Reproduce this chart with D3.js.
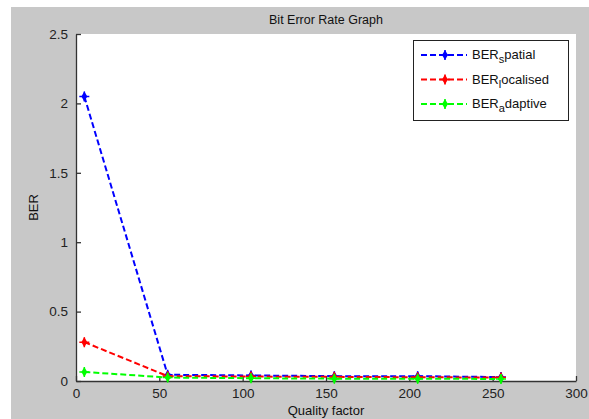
<!DOCTYPE html>
<html>
<head>
<meta charset="utf-8">
<script src="https://cdn.jsdelivr.net/npm/d3@7"></script>
<style>
  body { margin: 0; background: #fff; }
  svg { display: block; font-family: "Liberation Sans", Arial, sans-serif; }
</style>
</head>
<body>
<svg id="chart" width="589" height="419"></svg>
<script>
    const quality = [5, 55, 105, 155, 205, 255];
    const berSpatial = [2.05, 0.045, 0.04, 0.035, 0.035, 0.028];
    const berLocalised = [0.28, 0.035, 0.032, 0.03, 0.027, 0.025];
    const berAdaptive = [0.065, 0.025, 0.02, 0.017, 0.016, 0.015];
    const xTicks = [0, 50, 100, 150, 200, 250, 300];
    const yTicks = [0, 0.5, 1, 1.5, 2, 2.5];

    const series = [
        {name: ["BER", "s", "patial"], values: berSpatial, color: "#0000ff"},
        {name: ["BER", "l", "ocalised"], values: berLocalised, color: "#ff0000"},
        {name: ["BER", "a", "daptive"], values: berAdaptive, color: "#00ff00"}
    ];

    const plotLeft = 76, plotRight = 576, plotTop = 34, plotBottom = 381;
    const svg = d3.select("#chart");

    // figure background
    svg.append("rect").attr("x", 11).attr("y", 7)
        .attr("width", 589 - 11).attr("height", 419 - 7)
        .attr("fill", "#c8c8c8");
    svg.append("rect").attr("x", plotLeft).attr("y", plotTop)
        .attr("width", plotRight - plotLeft).attr("height", plotBottom - plotTop)
        .attr("fill", "#fff");

    const x = d3.scaleLinear().domain([0, 300]).range([plotLeft, plotRight]);
    const y = d3.scaleLinear().domain([0, 2.5]).range([plotBottom, plotTop]);

    const xAxis = svg.append("g")
        .attr("transform", "translate(0," + plotBottom + ")")
        .call(d3.axisBottom(x).tickValues(xTicks).tickSizeInner(-5).tickSizeOuter(0).tickPadding(7));
    const yAxis = svg.append("g")
        .attr("transform", "translate(" + plotLeft + ",0)")
        .call(d3.axisLeft(y).tickValues(yTicks).tickFormat(d3.format("")).tickSizeInner(-5).tickSizeOuter(0).tickPadding(8));
    [xAxis, yAxis].forEach(function(a) {
        a.selectAll("path, line").attr("stroke", "#333").attr("stroke-width", 1.3);
        a.selectAll("text").attr("fill", "#222").attr("font-size", 13.5)
            .attr("font-family", "'Liberation Sans', Arial, sans-serif");
    });

    svg.append("text").attr("x", (plotLeft + plotRight) / 2).attr("y", 24)
        .attr("text-anchor", "middle").attr("font-size", 12.5).attr("fill", "#111")
        .text("Bit Error Rate Graph");
    svg.append("text").attr("x", (plotLeft + plotRight) / 2).attr("y", 415)
        .attr("text-anchor", "middle").attr("font-size", 13).attr("fill", "#111")
        .text("Quality factor");
    svg.append("text")
        .attr("transform", "translate(38," + (plotTop + plotBottom) / 2 + ") rotate(-90)")
        .attr("text-anchor", "middle").attr("font-size", 13).attr("fill", "#111")
        .text("BER");

    function drawMarker(g, cx, cy, color) {
        g.append("path")
            .attr("d", "M" + (cx - 5) + "," + cy + "H" + (cx + 5) + "M" + cx + "," + (cy - 5) + "V" + (cy + 5))
            .attr("stroke", color).attr("stroke-width", 1.5);
        g.append("path")
            .attr("d", d3.symbol().type(d3.symbolDiamond).size(30)())
            .attr("transform", "translate(" + cx + "," + cy + ")")
            .attr("fill", color);
    }

    const line = d3.line()
        .x(function(d, i) { return x(quality[i]); })
        .y(function(d) { return y(d); });

    series.forEach(function(s) {
        const g = svg.append("g");
        g.append("path").datum(s.values)
            .attr("d", line)
            .attr("fill", "none")
            .attr("stroke", s.color)
            .attr("stroke-width", 2)
            .attr("stroke-dasharray", "6,3");
        s.values.forEach(function(v, i) {
            drawMarker(g, x(quality[i]), y(v), s.color);
        });
    });

    // legend
    const legend = svg.append("g");
    legend.append("rect").attr("x", 413.5).attr("y", 40.5)
        .attr("width", 155).attr("height", 80)
        .attr("fill", "#fff").attr("stroke", "#222").attr("stroke-width", 1);
    series.forEach(function(s, i) {
        const ly = 55 + i * 24.5;
        legend.append("line").attr("x1", 421).attr("x2", 467)
            .attr("y1", ly).attr("y2", ly)
            .attr("stroke", s.color).attr("stroke-width", 2)
            .attr("stroke-dasharray", "6,3");
        drawMarker(legend, 445, ly, s.color);
        const t = legend.append("text").attr("x", 472).attr("y", ly + 4)
            .attr("font-size", 13).attr("fill", "#111");
        t.append("tspan").text(s.name[0]);
        t.append("tspan").attr("dy", 4).attr("font-size", 11).text(s.name[1]);
        t.append("tspan").attr("dy", -4).text(s.name[2]);
    });
</script>
</body>
</html>
